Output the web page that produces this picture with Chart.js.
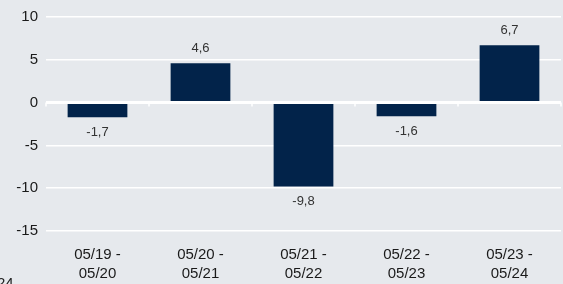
<!DOCTYPE html>
<html lang="en">
<head>
    <meta charset="UTF-8">
    <title>Daily change</title>
    <script src="https://cdn.jsdelivr.net/npm/chart.js@4.4.0/dist/chart.umd.min.js"></script>
    <style>
        html, body {
            margin: 0;
            padding: 0;
            background: #e6e9ed;
        }
        .chart-container {
            position: relative;
            width: 563px;
            height: 284px;
        }
    </style>
</head>
<body>
    <div class="chart-container">
        <canvas id="change-chart"></canvas>
    </div>

    <script>
        // Chart data
        const periods = [
            ['05/19 -', '05/20'],
            ['05/20 -', '05/21'],
            ['05/21 -', '05/22'],
            ['05/22 -', '05/23'],
            ['05/23 -', '05/24']
        ];
        const changes = [-1.7, 4.6, -9.8, -1.6, 6.7];
        const yTicks = [10, 5, 0, -5, -10, -15];
        const footText = '24';

        const barColor = '#02234a';
        const fmt = v => v.toFixed(1).replace('.', ',');

        // value labels, zero line tick marks, cut-off footer text
        const extras = {
            id: 'extras',
            afterDatasetsDraw(chart) {
                const { ctx, scales } = chart;
                const x = scales.x, y = scales.y;
                const zeroY = y.getPixelForValue(0);
                ctx.save();

                // small ticks under the zero line at category boundaries
                ctx.strokeStyle = '#ffffff';
                ctx.lineWidth = 1.5;
                const step = x.getPixelForValue(1) - x.getPixelForValue(0);
                for (let i = 0; i <= periods.length; i++) {
                    const px = Math.round(x.getPixelForValue(0) - step / 2 + i * step);
                    ctx.beginPath();
                    ctx.moveTo(px, zeroY);
                    ctx.lineTo(px, zeroY + 4);
                    ctx.stroke();
                }

                // value labels
                ctx.font = '13px "Liberation Sans", Arial, sans-serif';
                ctx.fillStyle = '#333333';
                ctx.textAlign = 'center';
                ctx.textBaseline = 'middle';
                chart.getDatasetMeta(0).data.forEach((bar, i) => {
                    const v = changes[i];
                    const ly = v >= 0 ? bar.y - 15 : bar.y + 15;
                    ctx.fillText(fmt(v), bar.x, ly);
                });

                // footer text cut off at bottom left
                ctx.font = '15px "Liberation Sans", Arial, sans-serif';
                ctx.fillStyle = '#222222';
                ctx.textAlign = 'left';
                ctx.textBaseline = 'top';
                ctx.fillText(footText, -3, 276);
                ctx.restore();
            }
        };

        const changeChart = new Chart(document.getElementById('change-chart'), {
            type: 'bar',
            data: {
                labels: periods,
                datasets: [{
                    data: changes,
                    backgroundColor: barColor,
                    borderWidth: 0,
                    categoryPercentage: 1.0,
                    barPercentage: 0.58
                }]
            },
            options: {
                responsive: true,
                maintainAspectRatio: false,
                animation: false,
                layout: {
                    padding: { top: 17, right: 2, left: 0, bottom: 0 }
                },
                plugins: {
                    legend: { display: false },
                    tooltip: { enabled: false }
                },
                scales: {
                    x: {
                        afterFit: axis => {
                            axis.height = 53;
                        },
                        grid: { display: false },
                        border: { display: false },
                        ticks: {
                            color: '#1a1a1a',
                            padding: 6,
                            maxRotation: 0,
                            font: { family: '"Liberation Sans", Arial, sans-serif', size: 15, lineHeight: 1.27 }
                        }
                    },
                    y: {
                        min: -15,
                        max: 10,
                        afterBuildTicks: axis => {
                            axis.ticks = yTicks.map(v => ({ value: v }));
                        },
                        afterFit: axis => {
                            axis.width = 46;
                        },
                        grid: {
                            color: '#ffffff',
                            lineWidth: c => c.tick && c.tick.value === 0 ? 3 : 1.5,
                            drawTicks: false
                        },
                        border: { display: false },
                        ticks: {
                            color: '#1a1a1a',
                            padding: 8,
                            font: { family: '"Liberation Sans", Arial, sans-serif', size: 15 }
                        }
                    }
                }
            },
            plugins: [extras]
        });
    </script>
</body>
</html>
